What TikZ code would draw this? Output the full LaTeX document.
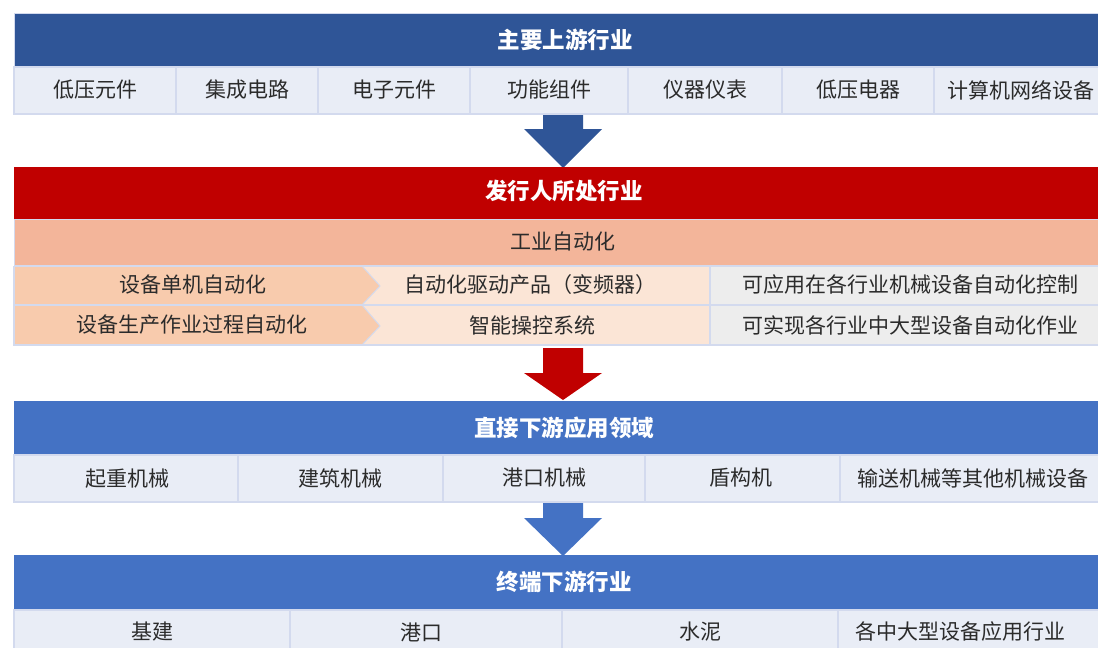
\documentclass[tikz,border=0pt]{standalone}
\usepackage{fontspec}
\newfontfamily\cjk{Noto Sans CJK SC}
\definecolor{hdrdark}{HTML}{2F5597}
\definecolor{hdrred}{HTML}{C00000}
\definecolor{hdrblue}{HTML}{4472C4}
\definecolor{salmon}{HTML}{F3B59A}
\definecolor{chevC}{HTML}{F8CBAD}
\definecolor{midC}{HTML}{FBE5D6}
\definecolor{greyC}{HTML}{EDEDED}
\definecolor{rowC}{HTML}{E9EDF6}
\definecolor{lineC}{HTML}{D3DAEE}
\definecolor{txtC}{HTML}{2B2B2B}
\begin{document}
\begin{tikzpicture}[x=1pt,y=-1pt,
  cellline/.style={draw=lineC, line width=1.5pt},
  txt/.style={font=\cjk\fontsize{21}{21}\selectfont, text=txtC, inner sep=0pt},
  htxt/.style={font=\cjk\bfseries\fontsize{22.5}{22.5}\selectfont, text=white, inner sep=0pt},
  blockarrow/.style={draw=none}
]
\useasboundingbox (0,0) rectangle (1098,648);
\fill[white] (0,0) rectangle (1098,648);

% ---------- upstream ----------
\fill[hdrdark] (14,13) rectangle (1110,67);
\draw[draw=lineC, line width=0.8pt] (14,13) rectangle (1110,67);
\node[htxt] (hup) at (565,40) {主要上游行业};
\fill[rowC] (14,67) rectangle (1110,114);
\foreach \x in {176,318,470,628,782,934} \draw[cellline] (\x,67) -- (\x,114);
\draw[cellline] (14,67) rectangle (1110,114);
\node[txt] (u1) at (95,90) {低压元件};
\node[txt] (u2) at (247,90) {集成电路};
\node[txt] (u3) at (394,90) {电子元件};
\node[txt] (u4) at (549,90) {功能组件};
\node[txt] (u5) at (705,90) {仪器仪表};
\node[txt] (u6) at (858,90) {低压电器};
\node[txt] (u7) at (1021,90) {计算机网络设备};

\fill[hdrdark] (543,115) -- (583,115) -- (583,129) -- (602,129) -- (563,168) -- (524,129) -- (543,129) -- cycle;

% ---------- issuer ----------
\fill[hdrred] (14,167) rectangle (1110,219);
\node[htxt] (hmid) at (564,191) {发行人所处行业};
\fill[salmon] (14,219) rectangle (1110,266);
\draw[draw=lineC, line width=0.8pt] (14,219) rectangle (1110,266);
\node[font=\cjk\fontsize{21}{21}\selectfont, text=txtC, inner sep=0pt] (auto) at (563,242) {工业自动化};

\fill[midC] (362,266) rectangle (710,345);
\fill[greyC] (710,266) rectangle (1110,345);
\fill[chevC] (14,266) -- (362,266) -- (380,286) -- (362,305) -- cycle;
\fill[chevC] (14,266) rectangle (362,305);
\fill[chevC] (14,305) -- (362,305) -- (380,326) -- (362,345) -- (14,345) -- cycle;
\draw[draw=lineC, line width=1pt] (362,266) -- (380,286) -- (362,305) -- (380,326) -- (362,345);
\draw[cellline] (14,305) -- (1110,305);
\draw[cellline] (710,266) -- (710,345);
\draw[cellline] (14,266) -- (14,345) -- (1110,345);
\draw[cellline] (14,266) -- (1110,266);
\node[txt] (a1) at (193,285) {设备单机自动化};
\node[txt] (a2) at (192,325) {设备生产作业过程自动化};
\node[txt] (b1) at (530,285) {自动化驱动产品（变频器）};
\node[txt] (b2) at (532,325) {智能操控系统};
\node[txt] (c1) at (910,285) {可应用在各行业机械设备自动化控制};
\node[txt] (c2) at (910,325) {可实现各行业中大型设备自动化作业};

\fill[hdrred] (543,348) -- (583,348) -- (583,373) -- (602,373) -- (563,400) -- (524,373) -- (543,373) -- cycle;

% ---------- direct downstream ----------
\fill[hdrblue] (14,401) rectangle (1110,455);
\node[htxt] (hdown) at (564,428) {直接下游应用领域};
\fill[rowC] (14,455) rectangle (1110,502);
\foreach \x in {238,443,645,840} \draw[cellline] (\x,455) -- (\x,502);
\draw[cellline] (14,455) rectangle (1110,502);
\node[txt] (d1) at (127,479) {起重机械};
\node[txt] (d2) at (340,478) {建筑机械};
\node[txt] (d3) at (544,478) {港口机械};
\node[txt] (d4) at (741,478) {盾构机};
\node[txt] (d5) at (973,478) {输送机械等其他机械设备};

\fill[hdrblue] (543,503) -- (583,503) -- (583,518) -- (602,518) -- (563,556) -- (524,518) -- (543,518) -- cycle;

% ---------- terminal ----------
\fill[hdrblue] (14,555) rectangle (1110,610);
\node[htxt] (hend) at (564,582) {终端下游行业};
\fill[rowC] (14,610) rectangle (1110,660);
\foreach \x in {290,562,838} \draw[cellline] (\x,610) -- (\x,660);
\draw[cellline] (14,610) rectangle (1110,660);
\node[txt] (e1) at (152,632) {基建};
\node[txt] (e2) at (421,632) {港口};
\node[txt] (e3) at (700,632) {水泥};
\node[txt] (e4) at (960,632) {各中大型设备应用行业};
\end{tikzpicture}
\end{document}
